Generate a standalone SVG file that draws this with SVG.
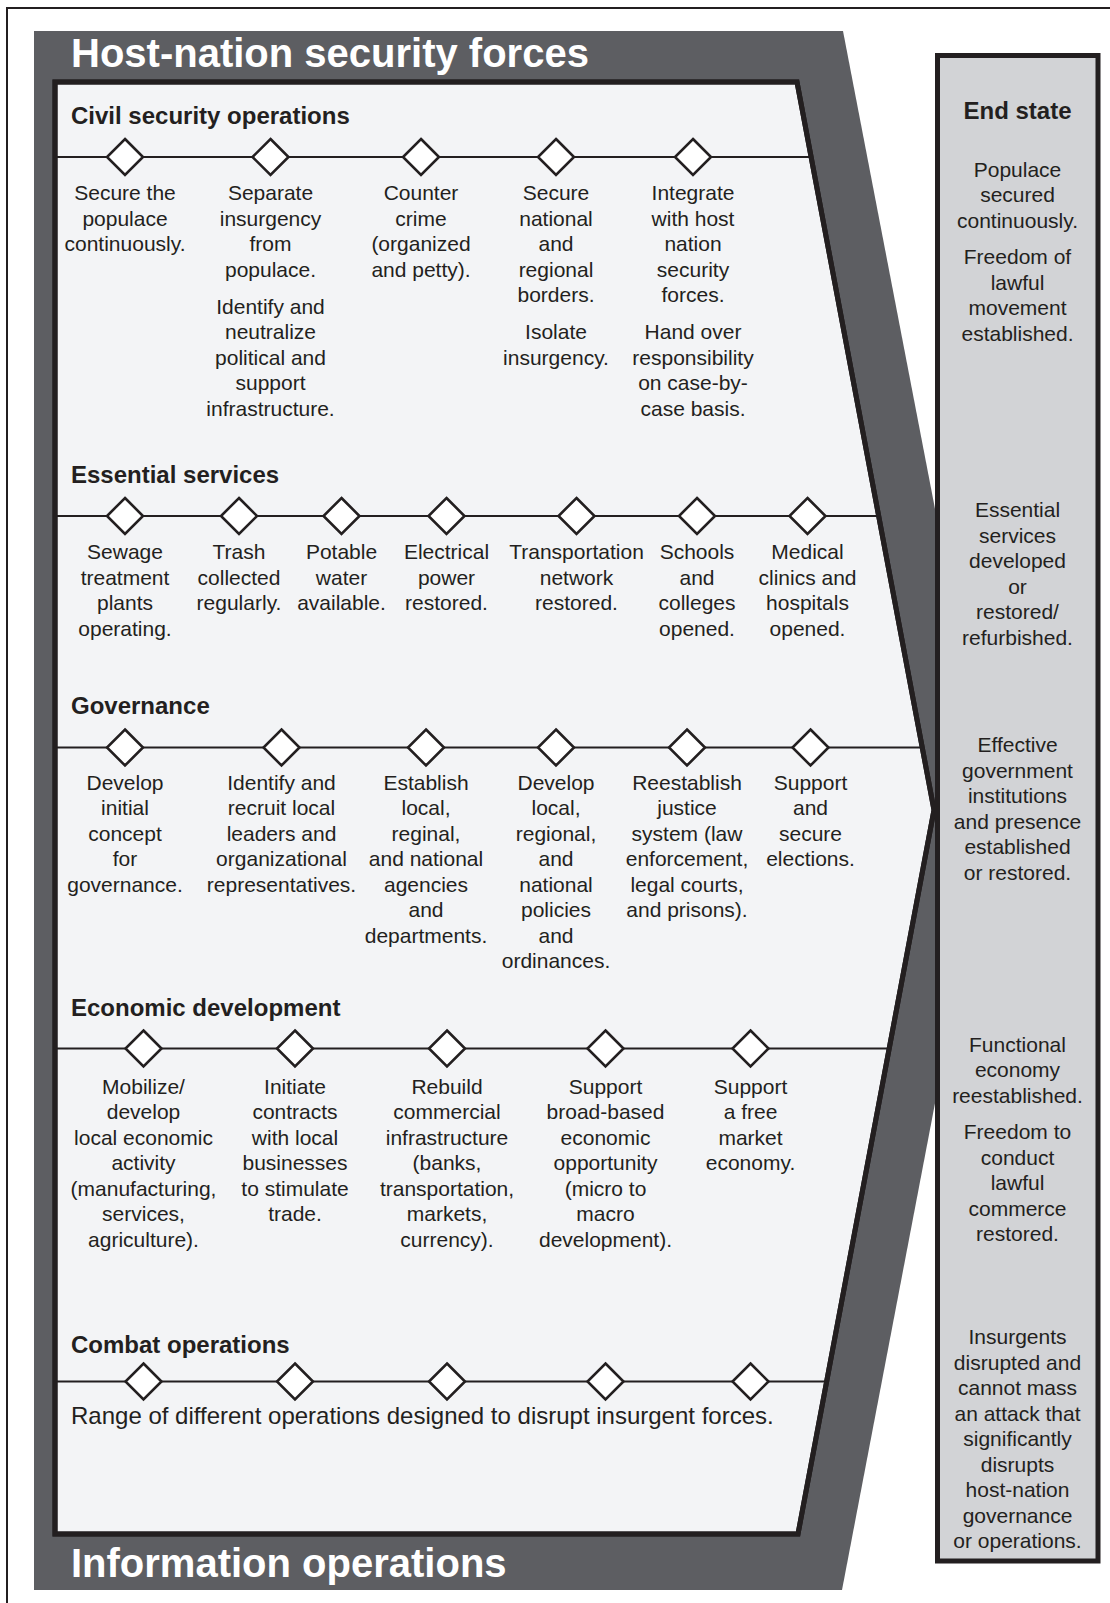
<svg xmlns="http://www.w3.org/2000/svg" width="1110" height="1603" viewBox="0 0 1110 1603">
<style>
.frame{stroke:#231f20;stroke-width:2;fill:none}
.band{fill:#5d5e62}
.panel{fill:#f3f4f6;stroke:#231f20;stroke-width:5;stroke-linejoin:miter}
.endbox{fill:#d2d3d6;stroke:#231f20;stroke-width:5}
.title{font-family:"Liberation Sans",Arial,sans-serif;font-weight:bold;font-size:40px;fill:#ffffff}
.hdr{font-family:"Liberation Sans",Arial,sans-serif;font-weight:bold;font-size:24px;fill:#231f20}
.t{font-family:"Liberation Sans",Arial,sans-serif;font-size:21px;fill:#231f20;text-anchor:middle}
.tl{font-family:"Liberation Sans",Arial,sans-serif;font-size:24px;fill:#231f20}
.line{stroke:#231f20;stroke-width:2.2;fill:none}
.dia{fill:#ffffff;stroke:#231f20;stroke-width:2.6}
</style>
<defs>
<clipPath id="inner"><polygon points="55,82 797,82 934,810 798,1534 55,1534"/></clipPath>
<polygon id="d" class="dia" points="0,-18 18,0 0,18 -18,0"/>
</defs>
<rect width="1110" height="1603" fill="#ffffff"/>
<path class="frame" d="M7,1603 V8 H1110"/>
<g id="band">
<polygon class="band" points="34,31 843,31 992,805 842,1590 34,1590"/>
<text class="title" x="71" y="67">Host-nation security forces</text>
<text class="title" x="71" y="1577">Information operations</text>
</g>
<g id="panel">
<polygon class="panel" points="55,82 797,82 934,810 798,1534 55,1534"/>
</g>
<g id="connectors" clip-path="url(#inner)">
<line class="line" x1="55" y1="157" x2="960" y2="157"/>
<line class="line" x1="55" y1="516" x2="960" y2="516"/>
<line class="line" x1="55" y1="747.5" x2="960" y2="747.5"/>
<line class="line" x1="55" y1="1048.5" x2="960" y2="1048.5"/>
<line class="line" x1="55" y1="1381.5" x2="960" y2="1381.5"/>
</g>
<polygon points="55,82 797,82 934,810 798,1534 55,1534" fill="none" stroke="#231f20" stroke-width="5"/>

<g id="civil">
<text class="hdr" x="71" y="124">Civil security operations</text>
<g id="civil-1"><use href="#d" x="125" y="157"/>
<text class="t"><tspan x="125" y="200">Secure the</tspan><tspan x="125" y="225.5">populace</tspan><tspan x="125" y="251">continuously.</tspan></text></g>
<g id="civil-2"><use href="#d" x="270.5" y="157"/>
<text class="t"><tspan x="270.5" y="200">Separate</tspan><tspan x="270.5" y="225.5">insurgency</tspan><tspan x="270.5" y="251">from</tspan><tspan x="270.5" y="276.5">populace.</tspan><tspan x="270.5" y="313.5">Identify and</tspan><tspan x="270.5" y="339">neutralize</tspan><tspan x="270.5" y="364.5">political and</tspan><tspan x="270.5" y="390">support</tspan><tspan x="270.5" y="415.5">infrastructure.</tspan></text></g>
<g id="civil-3"><use href="#d" x="421" y="157"/>
<text class="t"><tspan x="421" y="200">Counter</tspan><tspan x="421" y="225.5">crime</tspan><tspan x="421" y="251">(organized</tspan><tspan x="421" y="276.5">and petty).</tspan></text></g>
<g id="civil-4"><use href="#d" x="556" y="157"/>
<text class="t"><tspan x="556" y="200">Secure</tspan><tspan x="556" y="225.5">national</tspan><tspan x="556" y="251">and</tspan><tspan x="556" y="276.5">regional</tspan><tspan x="556" y="302">borders.</tspan><tspan x="556" y="339">Isolate</tspan><tspan x="556" y="364.5">insurgency.</tspan></text></g>
<g id="civil-5"><use href="#d" x="693" y="157"/>
<text class="t"><tspan x="693" y="200">Integrate</tspan><tspan x="693" y="225.5">with host</tspan><tspan x="693" y="251">nation</tspan><tspan x="693" y="276.5">security</tspan><tspan x="693" y="302">forces.</tspan><tspan x="693" y="339">Hand over</tspan><tspan x="693" y="364.5">responsibility</tspan><tspan x="693" y="390">on case-by-</tspan><tspan x="693" y="415.5">case basis.</tspan></text></g>
</g>

<g id="essential">
<text class="hdr" x="71" y="483">Essential services</text>
<g id="ess-1"><use href="#d" x="125" y="516"/>
<text class="t"><tspan x="125" y="559">Sewage</tspan><tspan x="125" y="584.5">treatment</tspan><tspan x="125" y="610">plants</tspan><tspan x="125" y="635.5">operating.</tspan></text></g>
<g id="ess-2"><use href="#d" x="239" y="516"/>
<text class="t"><tspan x="239" y="559">Trash</tspan><tspan x="239" y="584.5">collected</tspan><tspan x="239" y="610">regularly.</tspan></text></g>
<g id="ess-3"><use href="#d" x="341.5" y="516"/>
<text class="t"><tspan x="341.5" y="559">Potable</tspan><tspan x="341.5" y="584.5">water</tspan><tspan x="341.5" y="610">available.</tspan></text></g>
<g id="ess-4"><use href="#d" x="446.5" y="516"/>
<text class="t"><tspan x="446.5" y="559">Electrical</tspan><tspan x="446.5" y="584.5">power</tspan><tspan x="446.5" y="610">restored.</tspan></text></g>
<g id="ess-5"><use href="#d" x="576.5" y="516"/>
<text class="t"><tspan x="576.5" y="559">Transportation</tspan><tspan x="576.5" y="584.5">network</tspan><tspan x="576.5" y="610">restored.</tspan></text></g>
<g id="ess-6"><use href="#d" x="697" y="516"/>
<text class="t"><tspan x="697" y="559">Schools</tspan><tspan x="697" y="584.5">and</tspan><tspan x="697" y="610">colleges</tspan><tspan x="697" y="635.5">opened.</tspan></text></g>
<g id="ess-7"><use href="#d" x="807.5" y="516"/>
<text class="t"><tspan x="807.5" y="559">Medical</tspan><tspan x="807.5" y="584.5">clinics and</tspan><tspan x="807.5" y="610">hospitals</tspan><tspan x="807.5" y="635.5">opened.</tspan></text></g>
</g>

<g id="governance">
<text class="hdr" x="71" y="714">Governance</text>
<g id="gov-1"><use href="#d" x="125" y="747.5"/>
<text class="t"><tspan x="125" y="789.5">Develop</tspan><tspan x="125" y="815">initial</tspan><tspan x="125" y="840.5">concept</tspan><tspan x="125" y="866">for</tspan><tspan x="125" y="891.5">governance.</tspan></text></g>
<g id="gov-2"><use href="#d" x="281.5" y="747.5"/>
<text class="t"><tspan x="281.5" y="789.5">Identify and</tspan><tspan x="281.5" y="815">recruit local</tspan><tspan x="281.5" y="840.5">leaders and</tspan><tspan x="281.5" y="866">organizational</tspan><tspan x="281.5" y="891.5">representatives.</tspan></text></g>
<g id="gov-3"><use href="#d" x="426" y="747.5"/>
<text class="t"><tspan x="426" y="789.5">Establish</tspan><tspan x="426" y="815">local,</tspan><tspan x="426" y="840.5">reginal,</tspan><tspan x="426" y="866">and national</tspan><tspan x="426" y="891.5">agencies</tspan><tspan x="426" y="917">and</tspan><tspan x="426" y="942.5">departments.</tspan></text></g>
<g id="gov-4"><use href="#d" x="556" y="747.5"/>
<text class="t"><tspan x="556" y="789.5">Develop</tspan><tspan x="556" y="815">local,</tspan><tspan x="556" y="840.5">regional,</tspan><tspan x="556" y="866">and</tspan><tspan x="556" y="891.5">national</tspan><tspan x="556" y="917">policies</tspan><tspan x="556" y="942.5">and</tspan><tspan x="556" y="968">ordinances.</tspan></text></g>
<g id="gov-5"><use href="#d" x="687" y="747.5"/>
<text class="t"><tspan x="687" y="789.5">Reestablish</tspan><tspan x="687" y="815">justice</tspan><tspan x="687" y="840.5">system (law</tspan><tspan x="687" y="866">enforcement,</tspan><tspan x="687" y="891.5">legal courts,</tspan><tspan x="687" y="917">and prisons).</tspan></text></g>
<g id="gov-6"><use href="#d" x="810.5" y="747.5"/>
<text class="t"><tspan x="810.5" y="789.5">Support</tspan><tspan x="810.5" y="815">and</tspan><tspan x="810.5" y="840.5">secure</tspan><tspan x="810.5" y="866">elections.</tspan></text></g>
</g>

<g id="economic">
<text class="hdr" x="71" y="1016">Economic development</text>
<g id="eco-1"><use href="#d" x="143.5" y="1048.5"/>
<text class="t"><tspan x="143.5" y="1093.5">Mobilize/</tspan><tspan x="143.5" y="1119">develop</tspan><tspan x="143.5" y="1144.5">local economic</tspan><tspan x="143.5" y="1170">activity</tspan><tspan x="143.5" y="1195.5">(manufacturing,</tspan><tspan x="143.5" y="1221">services,</tspan><tspan x="143.5" y="1246.5">agriculture).</tspan></text></g>
<g id="eco-2"><use href="#d" x="295" y="1048.5"/>
<text class="t"><tspan x="295" y="1093.5">Initiate</tspan><tspan x="295" y="1119">contracts</tspan><tspan x="295" y="1144.5">with local</tspan><tspan x="295" y="1170">businesses</tspan><tspan x="295" y="1195.5">to stimulate</tspan><tspan x="295" y="1221">trade.</tspan></text></g>
<g id="eco-3"><use href="#d" x="447" y="1048.5"/>
<text class="t"><tspan x="447" y="1093.5">Rebuild</tspan><tspan x="447" y="1119">commercial</tspan><tspan x="447" y="1144.5">infrastructure</tspan><tspan x="447" y="1170">(banks,</tspan><tspan x="447" y="1195.5">transportation,</tspan><tspan x="447" y="1221">markets,</tspan><tspan x="447" y="1246.5">currency).</tspan></text></g>
<g id="eco-4"><use href="#d" x="605.5" y="1048.5"/>
<text class="t"><tspan x="605.5" y="1093.5">Support</tspan><tspan x="605.5" y="1119">broad-based</tspan><tspan x="605.5" y="1144.5">economic</tspan><tspan x="605.5" y="1170">opportunity</tspan><tspan x="605.5" y="1195.5">(micro to</tspan><tspan x="605.5" y="1221">macro</tspan><tspan x="605.5" y="1246.5">development).</tspan></text></g>
<g id="eco-5"><use href="#d" x="750.5" y="1048.5"/>
<text class="t"><tspan x="750.5" y="1093.5">Support</tspan><tspan x="750.5" y="1119">a free</tspan><tspan x="750.5" y="1144.5">market</tspan><tspan x="750.5" y="1170">economy.</tspan></text></g>
</g>

<g id="combat">
<text class="hdr" x="71" y="1353">Combat operations</text>
<use href="#d" x="143.5" y="1381.5"/>
<use href="#d" x="295" y="1381.5"/>
<use href="#d" x="447" y="1381.5"/>
<use href="#d" x="605.5" y="1381.5"/>
<use href="#d" x="750.5" y="1381.5"/>
<text class="tl" x="71" y="1424">Range of different operations designed to disrupt insurgent forces.</text>
</g>

<g id="end-state">
<rect class="endbox" x="937.5" y="55.5" width="160.5" height="1505.5"/>
<text class="hdr" x="1017.5" y="119" text-anchor="middle">End state</text>
<text class="t"><tspan x="1017.5" y="176.5">Populace</tspan><tspan x="1017.5" y="202">secured</tspan><tspan x="1017.5" y="227.5">continuously.</tspan><tspan x="1017.5" y="264">Freedom of</tspan><tspan x="1017.5" y="289.5">lawful</tspan><tspan x="1017.5" y="315">movement</tspan><tspan x="1017.5" y="340.5">established.</tspan></text>
<text class="t"><tspan x="1017.5" y="517">Essential</tspan><tspan x="1017.5" y="542.5">services</tspan><tspan x="1017.5" y="568">developed</tspan><tspan x="1017.5" y="593.5">or</tspan><tspan x="1017.5" y="619">restored/</tspan><tspan x="1017.5" y="644.5">refurbished.</tspan></text>
<text class="t"><tspan x="1017.5" y="752">Effective</tspan><tspan x="1017.5" y="777.5">government</tspan><tspan x="1017.5" y="803">institutions</tspan><tspan x="1017.5" y="828.5">and presence</tspan><tspan x="1017.5" y="854">established</tspan><tspan x="1017.5" y="879.5">or restored.</tspan></text>
<text class="t"><tspan x="1017.5" y="1051.5">Functional</tspan><tspan x="1017.5" y="1077">economy</tspan><tspan x="1017.5" y="1102.5">reestablished.</tspan><tspan x="1017.5" y="1139">Freedom to</tspan><tspan x="1017.5" y="1164.5">conduct</tspan><tspan x="1017.5" y="1190">lawful</tspan><tspan x="1017.5" y="1215.5">commerce</tspan><tspan x="1017.5" y="1241">restored.</tspan></text>
<text class="t"><tspan x="1017.5" y="1344">Insurgents</tspan><tspan x="1017.5" y="1369.5">disrupted and</tspan><tspan x="1017.5" y="1395">cannot mass</tspan><tspan x="1017.5" y="1420.5">an attack that</tspan><tspan x="1017.5" y="1446">significantly</tspan><tspan x="1017.5" y="1471.5">disrupts</tspan><tspan x="1017.5" y="1497">host-nation</tspan><tspan x="1017.5" y="1522.5">governance</tspan><tspan x="1017.5" y="1548">or operations.</tspan></text>
</g>
</svg>
